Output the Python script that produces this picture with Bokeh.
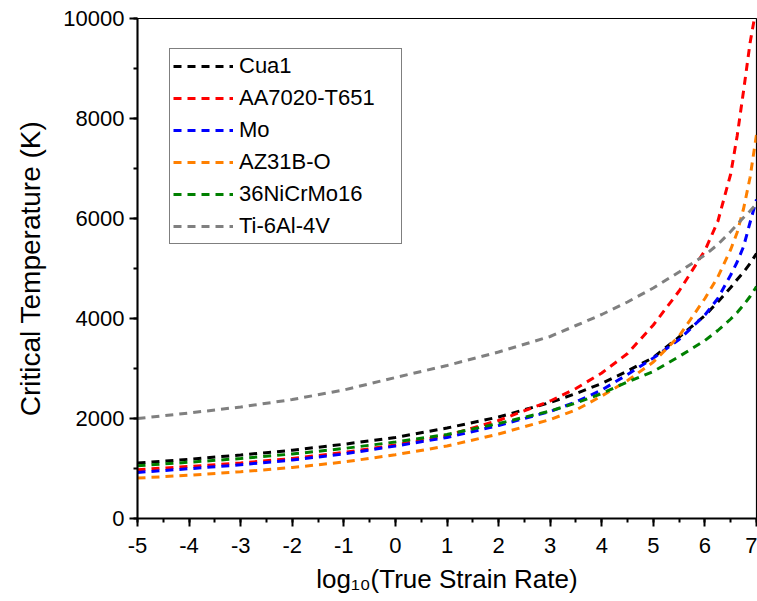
from bokeh.plotting import figure
from bokeh.models import (Range1d, SingleIntervalTicker, Legend, LegendItem, CustomJSTickFormatter)
from bokeh.embed import file_html
from bokeh.resources import INLINE

# log10(strain rate) grid
log_rate = [-5, -4, -3, -2, -1, 0, 1, 2, 3, 3.5, 4, 4.5, 5, 5.5, 6, 6.25, 6.5, 6.625, 6.75, 6.875, 7]

cua1 = [1108, 1185, 1270, 1365, 1485, 1620, 1810, 2030, 2320, 2500, 2700, 2950, 3220, 3630, 4060, 4330, 4620, 4780, 4930, 5100, 5300]
aa7020 = [976, 1040, 1110, 1200, 1320, 1470, 1660, 1960, 2350, 2600, 2910, 3300, 3870, 4550, 5360, 5940, 6890, 7650, 8560, 9510, 10240]
mo = [922, 995, 1075, 1170, 1290, 1450, 1620, 1860, 2140, 2330, 2570, 2880, 3210, 3580, 4070, 4400, 4870, 5130, 5440, 5920, 6380]
az31b = [808, 865, 935, 1020, 1130, 1275, 1450, 1690, 1980, 2170, 2450, 2760, 3130, 3650, 4400, 4830, 5380, 5720, 6200, 6820, 7680]
nicrmo = [1056, 1125, 1200, 1290, 1400, 1530, 1680, 1900, 2150, 2310, 2500, 2730, 2940, 3240, 3560, 3760, 3990, 4120, 4270, 4440, 4640]
ti64 = [2000, 2110, 2230, 2380, 2570, 2820, 3060, 3330, 3640, 3860, 4080, 4330, 4610, 4930, 5270, 5480, 5740, 5880, 6020, 6150, 6290]

names = ["Cua1", "AA7020-T651", "Mo", "AZ31B-O", "36NiCrMo16", "Ti-6Al-4V"]
series = [cua1, aa7020, mo, az31b, nicrmo, ti64]
colors = ["#000000", "#FF0000", "#0000FF", "#FF8000", "#008000", "#808080"]

FONT = "Liberation Sans"

p = figure(width=757, height=601, output_backend="svg", toolbar_location=None,
           x_range=Range1d(-5, 7), y_range=Range1d(0, 10000),
           min_border_left=137, min_border_right=1, min_border_top=18, min_border_bottom=83)
p.background_fill_color = "white"
p.border_fill_color = "white"
p.outline_line_color = "black"
p.outline_line_width = 1.2
p.xgrid.visible = False
p.ygrid.visible = False

items = []
for name, ys, c in zip(names, series, colors):
    r = p.line(log_rate, ys, line_color=c, line_width=3, line_dash="8 6")
    items.append(LegendItem(label=name, renderers=[r]))

# axes
p.xaxis.ticker = SingleIntervalTicker(interval=1, num_minor_ticks=2)
p.yaxis.ticker = SingleIntervalTicker(interval=2000, num_minor_ticks=2)
plain = CustomJSTickFormatter(code="return String(tick);")
for ax in (p.xaxis[0], p.yaxis[0]):
    ax.formatter = plain
    ax.axis_line_color = "black"
    ax.axis_line_width = 2
    ax.major_tick_line_color = "black"
    ax.major_tick_line_width = 2
    ax.minor_tick_line_color = "black"
    ax.minor_tick_line_width = 2
    ax.major_tick_in = 0
    ax.major_tick_out = 8
    ax.minor_tick_in = 0
    ax.minor_tick_out = 4
    ax.major_label_text_font = FONT
    ax.major_label_text_font_size = "22px"
    ax.major_label_text_color = "black"
    ax.axis_label_text_font = FONT
    ax.axis_label_text_font_style = "normal"
    ax.axis_label_text_color = "black"
p.xaxis.major_label_standoff = 11
p.yaxis.major_label_standoff = 5

p.yaxis.axis_label = "Critical Temperature (K)"
p.yaxis.axis_label_text_font_size = "28px"
p.yaxis.axis_label_standoff = 14

p.xaxis.axis_label = "log\u2081\u2080(True Strain Rate)"
p.xaxis.axis_label_text_font_size = "26px"
p.xaxis.axis_label_standoff = 8

legend = Legend(items=items, location=(32, 274))
legend.label_text_font = FONT
legend.label_text_font_size = "22px"
legend.label_text_color = "black"
legend.glyph_width = 60
legend.glyph_height = 28
legend.label_height = 28
legend.label_width = 159
legend.label_standoff = 6
legend.spacing = 4
legend.padding = 3
legend.margin = 0
legend.border_line_color = "black"
legend.border_line_width = 1
legend.background_fill_color = "white"
legend.background_fill_alpha = 1.0
p.add_layout(legend)

open("out.html", "w").write(file_html(p, INLINE))
